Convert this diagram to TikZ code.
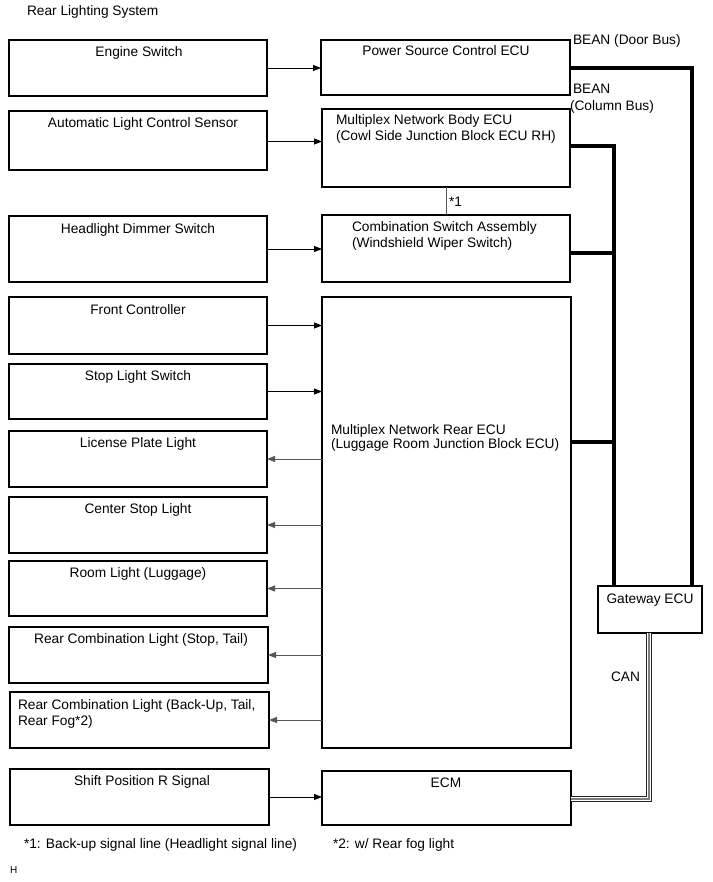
\documentclass[tikz,border=0pt]{standalone}
\usepackage{fontspec}
\setmainfont{Liberation Sans}
\usetikzlibrary{arrows.meta}
\definecolor{lgray}{HTML}{555555}
\begin{document}
\begin{tikzpicture}[x=0.75pt,y=-0.75pt,
  box/.style={draw=black,line width=1pt,inner sep=0pt,outer sep=0pt,rectangle},
  lbl/.style={inner sep=0pt,outer sep=0pt,font=\fontsize{10.3}{12}\selectfont,anchor=base},
  lbll/.style={lbl,anchor=base west},
  inarrow/.style={draw=black,line width=0.6pt,-{Triangle[length=6pt,width=4.5pt]}},
  outarrow/.style={draw=lgray,line width=0.6pt,-{Triangle[length=6pt,width=4.5pt]}},
  bus/.style={draw=black,line width=3pt},
  thin/.style={draw=lgray,line width=0.6pt}]
\useasboundingbox (0,0) rectangle (713,882);
\def\bx#1#2#3#4#5{\node[box,minimum width={(#4-#2)*0.75pt},minimum height={(#5-#3)*0.75pt}] (#1) at ({(#2+#4)/2},{(#3+#5)/2}) {};}
% title
\node[lbll] (title) at (27,15) {Rear Lighting System};
% left boxes
\bx{eng}{9}{40}{267}{96}
\bx{als}{9}{111}{267}{170}
\bx{hds}{9}{216}{267}{282}
\bx{fc}{9}{297}{267}{354}
\bx{sls}{9}{364}{267}{419}
\bx{lpl}{9}{431}{267}{487}
\bx{csl}{9}{497}{267}{553}
\bx{rl}{9}{561}{267}{616}
\bx{rcl}{9}{627}{268}{683}
\bx{rcb}{10}{692}{269}{748}
\bx{spr}{10}{769}{269}{825}
% right boxes
\bx{psc}{321}{40}{570}{95}
\bx{body}{322}{109}{570}{187}
\bx{comb}{322}{215}{570}{282}
\bx{rear}{322}{297}{571}{748}
\bx{ecm}{322}{771}{571}{825}
\bx{gw}{598}{586}{702}{633}
% texts
\node[lbl] (t1) at (139,56) {Engine Switch};
\node[lbl] (t2) at (143,127) {Automatic Light Control Sensor};
\node[lbl] (t3) at (138,233) {Headlight Dimmer Switch};
\node[lbl] (t4) at (138,314) {Front Controller};
\node[lbl] (t5) at (138,380) {Stop Light Switch};
\node[lbl] (t6) at (138,447) {License Plate Light};
\node[lbl] (t7) at (138,513) {Center Stop Light};
\node[lbl] (t8) at (138,577) {Room Light (Luggage)};
\node[lbl] (t9) at (141,643) {Rear Combination Light (Stop, Tail)};
\node[lbll] (t10a) at (18,709) {Rear Combination Light (Back-Up, Tail,};
\node[lbll] (t10b) at (18,725) {Rear Fog*2)};
\node[lbl] (t11) at (142,785) {Shift Position R Signal};
\node[lbl] (t12) at (446,55) {Power Source Control ECU};
\node[lbll] (t13a) at (336,124) {Multiplex Network Body ECU};
\node[lbll] (t13b) at (336,140) {(Cowl Side Junction Block ECU RH)};
\node[lbll] (t14a) at (352,231) {Combination Switch Assembly};
\node[lbll] (t14b) at (352,247) {(Windshield Wiper Switch)};
\node[lbll] (t15a) at (331,434) {Multiplex Network Rear ECU};
\node[lbll] (t15b) at (331,448) {(Luggage Room Junction Block ECU)};
\node[lbl] (t16) at (446,787) {ECM};
\node[lbl] (t17) at (650,603) {Gateway ECU};
\node[lbll] (t18) at (573,44) {BEAN (Door Bus)};
\node[lbll] (t19a) at (573,93) {BEAN};
\node[lbll] (t19b) at (570,110) {(Column Bus)};
\node[lbll] (t20) at (449,206) {*1};
\node[lbll] (t21) at (611,681) {CAN};
\node[lbll] (t22) at (24,848) {*1: Back-up signal line (Headlight signal line)};
\node[lbll] (t23) at (333,848) {*2: w/ Rear fog light};
\node[lbll,font=\fontsize{7.5}{8}\selectfont] (t24) at (10,873) {H};
% input arrows
\draw[inarrow] (eng.east) -- (eng.east -| psc.west);
\draw[inarrow] ([yshift=-0.75pt]als.east) -- ([yshift=-0.75pt]als.east -| body.west);
\draw[inarrow] (hds.east) -- (hds.east -| comb.west);
\draw[inarrow] (fc.east) -- (fc.east -| rear.west);
\draw[inarrow] (sls.east) -- (sls.east -| rear.west);
\draw[inarrow] (spr.east) -- (spr.east -| ecm.west);
% output arrows
\draw[outarrow] (rear.west |- lpl.east) -- (lpl.east);
\draw[outarrow] (rear.west |- csl.east) -- (csl.east);
\draw[outarrow] (rear.west |- rl.east) -- (rl.east);
\draw[outarrow] (rear.west |- rcl.east) -- (rcl.east);
\draw[outarrow] (rear.west |- rcb.east) -- (rcb.east);
% *1 line
\coordinate (s1) at (446,0);
\draw[thin] (body.south -| s1) -- (comb.north -| s1);
% buses
\coordinate (xd) at (692,0);
\coordinate (xc) at (614,0);
\draw[bus] (psc.east) -- (psc.east -| xd) -- (gw.north -| xd);
\draw[bus] ([yshift=1.5pt]body.east) -- ([yshift=1.5pt]body.east -| xc) -- (gw.north -| xc);
\draw[bus] ([yshift=-3.4pt]comb.east) -- ([yshift=-3.4pt]comb.east -| xc);
\coordinate (yr) at (0,442);
\draw[bus] (rear.east |- yr) -- (xc |- yr);
% CAN
\coordinate (xcan) at (649,0);
\coordinate (ycan) at (0,799);
\foreach \w/\c in {5pt/black!85,3.5pt/white,1pt/gray}
  \draw[line width=\w,draw=\c] (gw.south -| xcan) -- (xcan |- ycan) -- (ecm.east |- ycan);
\end{tikzpicture}
\end{document}
